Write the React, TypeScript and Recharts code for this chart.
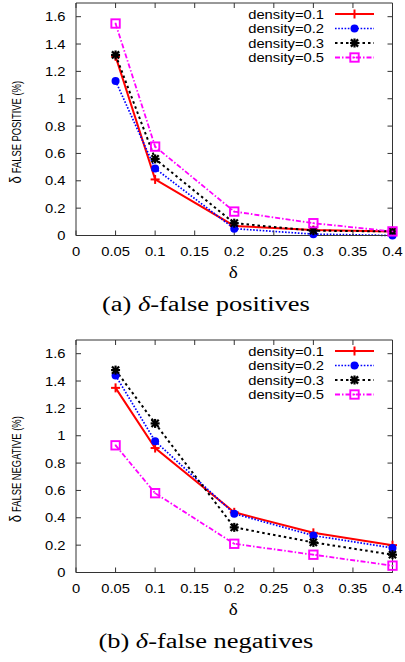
import React from 'react';
import { LineChart, Line, XAxis, YAxis, Legend } from 'recharts';

// ---------- data ----------
const deltaValues = [0.05, 0.1, 0.2, 0.3, 0.4];
const xTickValues = [0, 0.05, 0.1, 0.15, 0.2, 0.25, 0.3, 0.35, 0.4];
const xTickLabels = ['0', '0.05', '0.1', '0.15', '0.2', '0.25', '0.3', '0.35', '0.4'];
const yTickValues = [0, 0.2, 0.4, 0.6, 0.8, 1, 1.2, 1.4, 1.6];
const yTickLabels = ['0', '0.2', '0.4', '0.6', '0.8', '1', '1.2', '1.4', '1.6'];
const seriesKeys = ['d01', 'd02', 'd03', 'd05'];
const seriesNames = ['density=0.1', 'density=0.2', 'density=0.3', 'density=0.5'];

const fpDensity01 = [1.31, 0.41, 0.07, 0.04, 0.03];
const fpDensity02 = [1.13, 0.49, 0.05, 0.01, 0.0];
const fpDensity03 = [1.32, 0.56, 0.09, 0.035, 0.03];
const fpDensity05 = [1.55, 0.65, 0.175, 0.09, 0.03];

const fnDensity01 = [1.35, 0.91, 0.44, 0.29, 0.2];
const fnDensity02 = [1.44, 0.96, 0.43, 0.27, 0.18];
const fnDensity03 = [1.48, 1.09, 0.33, 0.22, 0.13];
const fnDensity05 = [0.93, 0.58, 0.21, 0.13, 0.05];

const xAxisTitle = 'δ';
const yTitleSymbol = 'δ';
const yTitleA = 'FALSE POSITIVE (%)';
const yTitleB = 'FALSE NEGATIVE (%)';
const captionA = ['(a) ', 'δ', '-false positives'];
const captionB = ['(b) ', 'δ', '-false negatives'];

// ---------- styles ----------
const SANS = "'Liberation Sans', Arial, Helvetica, sans-serif";
const SERIF = "'Liberation Serif', 'Times New Roman', serif";
const SX = 1.18;
const FS = 12.5;
const AXIS = '#333333';

const STYLES: Record<string, { color: string; width: number; dash?: string; marker: string }> = {
  d01: { color: '#ff0000', width: 2, dash: undefined, marker: 'plus' },
  d02: { color: '#0000ff', width: 1.7, dash: '1.6 1.6', marker: 'circle' },
  d03: { color: '#000000', width: 2, dash: '2.5 3', marker: 'star' },
  d05: { color: '#ff00ff', width: 1.8, dash: '5 2 1.5 2', marker: 'square' },
};

function buildData(s1: number[], s2: number[], s3: number[], s5: number[]) {
  return deltaValues.map((d, i) => ({ delta: d, d01: s1[i], d02: s2[i], d03: s3[i], d05: s5[i] }));
}

const dataA = buildData(fpDensity01, fpDensity02, fpDensity03, fpDensity05);
const dataB = buildData(fnDensity01, fnDensity02, fnDensity03, fnDensity05);

function Marker({ kind, cx, cy, color }: { kind: string; cx: number; cy: number; color: string }) {
  if (cx == null || cy == null || isNaN(cx) || isNaN(cy)) return null;
  if (kind === 'plus') {
    return (
      <g stroke={color} strokeWidth={2}>
        <line x1={cx - 4.5} y1={cy} x2={cx + 4.5} y2={cy} />
        <line x1={cx} y1={cy - 4.5} x2={cx} y2={cy + 4.5} />
      </g>
    );
  }
  if (kind === 'circle') {
    return <circle cx={cx} cy={cy} r={4} fill={color} />;
  }
  if (kind === 'star') {
    return (
      <g stroke={color} strokeWidth={2.2}>
        <line x1={cx - 4.5} y1={cy} x2={cx + 4.5} y2={cy} />
        <line x1={cx} y1={cy - 4.5} x2={cx} y2={cy + 4.5} />
        <line x1={cx - 3.6} y1={cy - 3.6} x2={cx + 3.6} y2={cy + 3.6} />
        <line x1={cx - 3.6} y1={cy + 3.6} x2={cx + 3.6} y2={cy - 3.6} />
        <circle cx={cx} cy={cy} r={2.4} fill={color} stroke="none" />
      </g>
    );
  }
  return (
    <g>
      <rect x={cx - 4.2} y={cy - 4.2} width={8.4} height={8.4} fill="none" stroke={color} strokeWidth={1.9} />
      <rect x={cx - 0.8} y={cy - 0.8} width={1.6} height={1.6} fill={color} />
    </g>
  );
}

const makeDot = (key: string) => (props: any) => (
  <Marker key={`${key}-${props.index}`} kind={STYLES[key].marker} cx={props.cx} cy={props.cy} color={STYLES[key].color} />
);

const XTick = (props: any) => {
  const { x, y, payload } = props;
  const idx = xTickValues.indexOf(payload.value);
  const label = idx >= 0 ? xTickLabels[idx] : String(payload.value);
  return (
    <text transform={`translate(${x} ${y}) scale(${SX} 1)`} textAnchor="middle" dy="0.71em" fontSize={FS} fontFamily={SANS} fill="#000">
      {label}
    </text>
  );
};

const YTick = (props: any) => {
  const { x, y, payload } = props;
  const idx = yTickValues.indexOf(payload.value);
  const label = idx >= 0 ? yTickLabels[idx] : String(payload.value);
  return (
    <text transform={`translate(${x} ${y}) scale(${SX} 1)`} textAnchor="end" dy="0.36em" fontSize={FS} fontFamily={SANS} fill="#000">
      {label}
    </text>
  );
};

const NoTick = () => null;

const XLabel = (props: any) => {
  const vb = props.viewBox || {};
  const cx = (vb.x ?? 76) + (vb.width ?? 317) / 2 - 1;
  const y = (vb.y ?? 235.5) + 37;
  return (
    <text transform={`translate(${cx} ${y}) scale(1.2 1)`} textAnchor="middle" dy="0.35em" fontSize={16} fontFamily={SERIF} fill="#000">
      {xAxisTitle}
    </text>
  );
};

const makeYLabel = (title: string) => (props: any) => {
  const vb = props.viewBox || {};
  const cy = (vb.y ?? 3) + (vb.height ?? 232.5) / 2 + 13;
  return (
    <text transform={`translate(20.7 ${cy}) scale(1.3 1) rotate(-90)`} textAnchor="middle" fontFamily={SANS} fill="#000">
      <tspan fontSize={13}>{yTitleSymbol}</tspan>
      <tspan fontSize={9.4} dx={3}>{title}</tspan>
    </text>
  );
};

const LegendBox = (props: any) => {
  const payload = (props.payload || []).filter((e: any) => STYLES[String(e.dataKey)] && e.type !== 'none');
  return (
    <svg width={405} height={70} style={{ display: 'block' }}>
      {payload.map((entry: any, i: number) => {
        const key = String(entry.dataKey);
        const st = STYLES[key];
        const y = 11 + i * 14.5;
        return (
          <g key={key}>
            <text transform={`translate(324 ${y}) scale(${SX} 1)`} textAnchor="end" dy="0.36em" fontSize={FS} fontFamily={SANS} fill="#000">
              {entry.value}
            </text>
            <line x1={335} x2={374} y1={y} y2={y} stroke={st.color} strokeWidth={st.width} strokeDasharray={st.dash} />
            <Marker kind={st.marker} cx={354.5} cy={y} color={st.color} />
          </g>
        );
      })}
    </svg>
  );
};

function Panel({ data, top, height, yTitle, caption, captionWidth }: any) {
  const bottomMargin = height - 235.5 - 40;
  return (
    <div style={{ position: 'absolute', left: 0, top, width: 405, height }}>
      <LineChart width={405} height={height} data={data} margin={{ top: 0, right: 0, bottom: bottomMargin, left: 0 }}>
        <XAxis
          dataKey="delta"
          type="number"
          domain={[0, 0.4]}
          ticks={xTickValues}
          interval={0}
          height={40}
          stroke={AXIS}
          tickSize={-5}
          tickMargin={17}
          tick={<XTick />}
          label={XLabel}
        />
        <XAxis
          xAxisId="top"
          dataKey="delta"
          orientation="top"
          type="number"
          domain={[0, 0.4]}
          ticks={xTickValues}
          interval={0}
          height={3}
          stroke={AXIS}
          tickSize={-5}
          tick={NoTick}
        />
        <YAxis
          type="number"
          domain={[0, 1.7]}
          ticks={yTickValues}
          interval={0}
          width={76}
          stroke={AXIS}
          tickSize={-5}
          tickMargin={15.5}
          tick={<YTick />}
          label={makeYLabel(yTitle)}
        />
        <YAxis
          yAxisId="right"
          orientation="right"
          type="number"
          domain={[0, 1.7]}
          ticks={yTickValues}
          interval={0}
          width={12.5}
          stroke={AXIS}
          tickSize={-5}
          tick={NoTick}
        />
        <Legend
          layout="vertical"
          align="center"
          verticalAlign="middle"
          content={LegendBox}
          wrapperStyle={{ position: 'absolute', left: 0, top: 3, width: 405, height: 70 }}
        />
        <Line
          xAxisId="top"
          yAxisId="right"
          dataKey="d01"
          stroke="none"
          strokeWidth={0}
          dot={false}
          activeDot={false}
          legendType="none"
          isAnimationActive={false}
        />
        {seriesKeys.map((key, i) => (
          <Line
            key={key}
            dataKey={key}
            name={seriesNames[i]}
            type="linear"
            stroke={STYLES[key].color}
            strokeWidth={STYLES[key].width}
            strokeDasharray={STYLES[key].dash}
            dot={makeDot(key)}
            activeDot={false}
            isAnimationActive={false}
          />
        ))}
      </LineChart>
      <svg width={405} height={45} style={{ position: 'absolute', left: 0, top: 280 }}>
        <text
          x={205.9}
          y={31}
          textAnchor="middle"
          textLength={captionWidth}
          lengthAdjust="spacingAndGlyphs"
          fontSize={20}
          fontFamily={SERIF}
          fill="#000"
        >
          {caption[0]}
          <tspan fontStyle="italic">{caption[1]}</tspan>
          {caption[2]}
        </text>
      </svg>
    </div>
  );
}

export default function App() {
  return (
    <div style={{ position: 'absolute', left: 0, top: 0, width: 405, height: 662, overflow: 'hidden', background: '#fff' }}>
      <Panel data={dataA} top={0} height={330} yTitle={yTitleA} caption={captionA} captionWidth={208} />
      <Panel data={dataB} top={337} height={325} yTitle={yTitleB} caption={captionB} captionWidth={215} />
    </div>
  );
}
